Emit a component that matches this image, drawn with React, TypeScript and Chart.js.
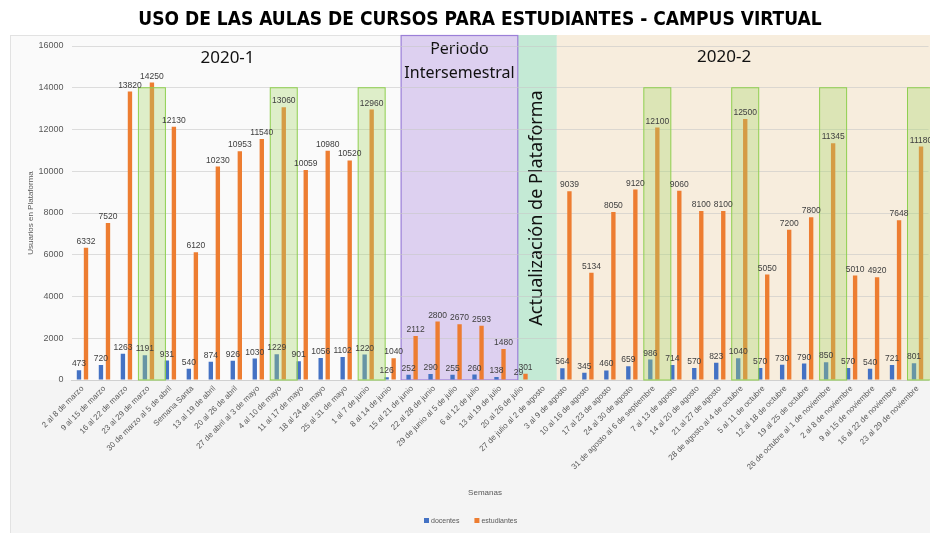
import React, { useEffect, useRef } from "react";
import { Chart, registerables } from "chart.js";

Chart.register(...registerables);

const semanas: string[] = [
  "2 al 8 de marzo",
  "9 al 15 de marzo",
  "16 al 22 de marzo",
  "23 al 29 de marzo",
  "30 de marzo al 5 de abril",
  "Semana Santa",
  "13 al 19 de abril",
  "20 al 26 de abril",
  "27 de abril al 3 de mayo",
  "4 al 10 de mayo",
  "11 al 17 de mayo",
  "18 al 24 de mayo",
  "25 al 31 de mayo",
  "1 al 7 de junio",
  "8 al 14 de junio",
  "15 al 21 de junio",
  "22 al 28 de junio",
  "29 de junio al 5 de julio",
  "6 al 12 de julio",
  "13 al 19 de julio",
  "20 al 26 de julio",
  "27 de julio al 2 de agosto",
  "3 al 9 de agosto",
  "10 al 16 de agosto",
  "17 al 23 de agosto",
  "24 al 30 de agosto",
  "31 de agosto al 6 de septiembre",
  "7 al 13 de agosto",
  "14 al 20 de agosto",
  "21 al 27 de agosto",
  "28 de agosto al 4 de octubre",
  "5 al 11 de octubre",
  "12 al 18 de octubre",
  "19 al 25 de octubre",
  "26 de octubre al 1 de noviembre",
  "2 al 8 de noviembre",
  "9 al 15 de noviembre",
  "16 al 22 de noviembre",
  "23 al 29 de noviembre",
];

const docentes: (number | null)[] = [
  473, 720, 1263, 1191, 931, 540, 874, 926, 1030, 1229, 901, 1056, 1102, 1220, 126,
  252, 290, 255, 260, 138, 29,
  null,
  564, 345, 460, 659, 986, 714, 570, 823, 1040, 570, 730, 790, 850, 570, 540, 721, 801,
];

const estudiantes: (number | null)[] = [
  6332, 7520, 13820, 14250, 12130, 6120, 10230, 10953, 11540, 13060, 10059, 10980, 10520, 12960, 1040,
  2112, 2800, 2670, 2593, 1480, 301,
  null,
  9039, 5134, 8050, 9120, 12100, 9060, 8100, 8100, 12500, 5050, 7200, 7800, 11345, 5010, 4920, 7648, 11180,
];

const semanasResaltadas: number[] = [3, 9, 13, 26, 30, 34, 38];

const Y_MAX = 16000;
const Y_STEP = 2000;

const TITLE = "USO DE LAS AULAS DE CURSOS PARA ESTUDIANTES - CAMPUS VIRTUAL";
const SERIES_NAMES = ["docentes", "estudiantes"];
const COLORS = ["#4472C4", "#ED7D31"];

const decorPlugin = {
  id: "decor",
  beforeDraw(chart: any) {
    const ctx = chart.ctx;
    const ca = chart.chartArea;
    const x = chart.scales.x;
    const c0 = x.getPixelForValue(0);
    const step = x.getPixelForValue(1) - c0;
    const px = (v: number) => c0 + v * step;
    ctx.save();
    ctx.fillStyle = "#ffffff";
    ctx.fillRect(0, 0, chart.width, chart.height);
    // frame
    ctx.fillStyle = "#f4f4f4";
    ctx.fillRect(10, 35, chart.width - 10, chart.height - 35);
    ctx.strokeStyle = "#e2e2e2";
    ctx.lineWidth = 1;
    ctx.strokeRect(10.5, 35.5, chart.width - 10, chart.height - 35);
    // 2020-1 area
    ctx.fillStyle = "#fafafa";
    ctx.fillRect(11, 36, px(14.5) - 11, ca.bottom - 36);
    // beige 2020-2
    ctx.fillStyle = "#f7eddd";
    ctx.fillRect(px(21.58), 35, chart.width - px(21.58), ca.bottom - 35);
    // green strip
    ctx.fillStyle = "#c4ead5";
    ctx.fillRect(px(19.81), 35, px(21.58) - px(19.81), ca.bottom - 35);
    // purple box
    ctx.fillStyle = "#ddd0f0";
    ctx.fillRect(px(14.5), 35, px(19.81) - px(14.5), ca.bottom - 35);
    ctx.strokeStyle = "#9b7fd8";
    ctx.lineWidth = 1.2;
    ctx.strokeRect(px(14.5), 35.5, px(19.81) - px(14.5), ca.bottom - 35.5);

    // title
    ctx.fillStyle = "#000000";
    ctx.font = "bold 19px 'DejaVu Sans Condensed'";
    ctx.textAlign = "center";
    ctx.textBaseline = "middle";
    ctx.fillText(TITLE, 480, 20);

    // region labels
    ctx.fillStyle = "#111111";
    ctx.font = "17px 'Noto Sans'";
    ctx.fillText("2020-1", px(6.6), 58);
    ctx.fillText("2020-2", px(29.2), 57);
    ctx.font = "16px 'Noto Sans'";
    ctx.fillText("Periodo", (px(14.5) + px(19.81)) / 2, 49);
    ctx.fillText("Intersemestral", (px(14.5) + px(19.81)) / 2, 73);
    ctx.save();
    ctx.translate((px(19.81) + px(21.58)) / 2, 208);
    ctx.rotate(-Math.PI / 2);
    ctx.font = "18px 'Noto Sans'";
    ctx.fillText("Actualización de Plataforma", 0, 0);
    ctx.restore();

    // axis titles
    ctx.fillStyle = "#595959";
    ctx.font = "8px 'Liberation Sans'";
    ctx.save();
    ctx.translate(31, (ca.top + ca.bottom) / 2);
    ctx.rotate(-Math.PI / 2);
    ctx.fillText("Usuarios en Plataforma", 0, 0);
    ctx.restore();
    ctx.fillText("Semanas", 485, 493);

    // legend
    ctx.font = "7px 'Liberation Sans'";
    ctx.textAlign = "left";
    let lx = 424;
    SERIES_NAMES.forEach((name, i) => {
      ctx.fillStyle = COLORS[i];
      ctx.fillRect(lx, 518, 5, 5);
      ctx.fillStyle = "#595959";
      ctx.fillText(name, lx + 7, 521);
      lx += 7 + ctx.measureText(name).width + 15;
    });
    ctx.restore();
  },
  afterDatasetsDraw(chart: any) {
    const ctx = chart.ctx;
    const ca = chart.chartArea;
    const x = chart.scales.x;
    const y = chart.scales.y;
    ctx.save();
    // highlight boxes
    semanasResaltadas.forEach((i) => {
      const cx = x.getPixelForValue(i);
      const top = y.getPixelForValue(14000);
      ctx.fillStyle = "rgba(168, 215, 110, 0.35)";
      ctx.fillRect(cx - 10, top, 27, ca.bottom - top);
      ctx.strokeStyle = "#8fcf4f";
      ctx.lineWidth = 1;
      ctx.strokeRect(cx - 10, top, 27, ca.bottom - top);
    });
    // data labels
    ctx.font = "8.5px 'Liberation Sans'";
    ctx.fillStyle = "#404040";
    ctx.textAlign = "center";
    ctx.textBaseline = "bottom";
    chart.data.datasets.forEach((ds: any, di: number) => {
      const meta = chart.getDatasetMeta(di);
      meta.data.forEach((el: any, i: number) => {
        const v = ds.data[i];
        if (v === null || v === undefined) return;
        ctx.fillText(String(v), el.x, el.y - 2);
      });
    });
    ctx.restore();
  },
};

export default function App() {
  const ref = useRef<HTMLCanvasElement | null>(null);
  useEffect(() => {
    document.body.style.margin = "0";
    if (!ref.current) return;
    const chart = new Chart(ref.current, {
      type: "bar",
      data: {
        labels: semanas,
        datasets: [
          {
            label: SERIES_NAMES[0],
            data: docentes,
            backgroundColor: COLORS[0],
            categoryPercentage: 0.64,
            barPercentage: 0.62,
          },
          {
            label: SERIES_NAMES[1],
            data: estudiantes,
            backgroundColor: COLORS[1],
            categoryPercentage: 0.64,
            barPercentage: 0.62,
          },
        ],
      },
      options: {
        responsive: false,
        animation: false,
        layout: { padding: { top: 46, left: 0, right: 1.5, bottom: 0 } },
        plugins: {
          legend: { display: false },
          title: { display: false },
          tooltip: { enabled: false },
        },
        scales: {
          x: {
            grid: { display: false, drawTicks: false },
            border: { display: true, color: "#d0d0d0" },
            ticks: {
              autoSkip: false,
              maxRotation: 45,
              minRotation: 45,
              padding: 4,
              color: "#595959",
              font: { family: "'Liberation Sans'", size: 8 },
            },
            afterFit: (s: any) => {
              s.height = 153;
            },
          },
          y: {
            min: 0,
            max: Y_MAX,
            grid: { color: "rgba(200,200,200,0.6)", drawTicks: false },
            border: { display: false },
            ticks: {
              stepSize: Y_STEP,
              padding: 8,
              color: "#595959",
              font: { family: "'Liberation Sans'", size: 9 },
              callback: (v: any) => String(v),
            },
            afterFit: (s: any) => {
              s.width = 71.5;
            },
          },
        },
      },
      plugins: [decorPlugin],
    });
    return () => chart.destroy();
  }, []);
  return (
    <div style={{ width: 930, height: 533, position: "relative" }}>
      <canvas ref={ref} width={930} height={533} style={{ display: "block" }} />
    </div>
  );
}
